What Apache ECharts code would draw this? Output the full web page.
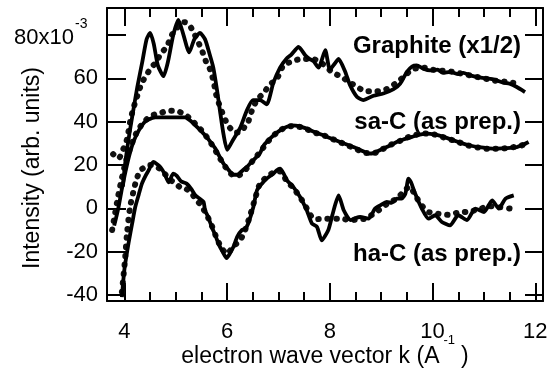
<!DOCTYPE html>
<html>
<head>
<meta charset="utf-8">
<script src="https://cdn.jsdelivr.net/npm/echarts@6/dist/echarts.min.js"></script>
<style>
  html, body { margin: 0; padding: 0; background: #fff; }
  #chart { width: 551px; height: 377px; }
</style>
</head>
<body>
<div id="chart"></div>
<script>
// axis ticks
const xMajor = [4, 6, 8, 10, 12];
const xMinor = [4.5, 5, 5.5, 6.5, 7, 7.5, 8.5, 9, 9.5, 10.5, 11, 11.5];
const yMajor = [-40, -20, 0, 20, 40, 60, 80];

// Graphite (x1/2): solid line and dots
const graphiteLine = [
  [3.97, 10], [4.01, 20], [4.1, 35], [4.17, 45], [4.25, 56], [4.35, 68], [4.43, 78], [4.5, 81],
  [4.57, 76], [4.65, 66], [4.76, 61], [4.85, 68], [4.95, 80], [5.05, 87], [5.15, 80], [5.26, 72],
  [5.36, 78], [5.47, 81], [5.57, 78], [5.66, 71], [5.73, 65], [5.8, 55], [5.86, 45], [5.93, 34],
  [6.0, 27], [6.1, 31], [6.25, 37], [6.38, 45], [6.5, 50], [6.64, 50], [6.77, 48], [6.9, 58],
  [7.03, 65], [7.15, 69], [7.25, 71], [7.39, 74.5], [7.52, 70.7], [7.6, 69], [7.68, 68], [7.78, 65],
  [7.91, 73], [8.0, 64], [8.1, 67], [8.17, 69], [8.3, 63], [8.39, 57], [8.53, 51.4], [8.65, 50],
  [8.85, 52], [9.04, 53], [9.24, 55], [9.37, 57.6], [9.5, 63], [9.6, 65.5], [9.69, 66], [9.82, 64.5],
  [9.95, 63.7], [10.1, 64], [10.2, 62.5], [10.34, 63], [10.5, 62], [10.6, 62.5], [10.73, 61.4],
  [10.9, 60.5], [11.06, 60], [11.2, 59.5], [11.38, 58], [11.5, 57.5], [11.64, 56], [11.8, 53.7]
];
const graphiteDots = [
  [3.78, 25], [3.88, 23], [3.97, 27], [4.05, 32], [4.11, 40], [4.16, 45], [4.21, 49], [4.28, 54],
  [4.34, 58], [4.44, 62], [4.52, 65], [4.6, 67], [4.7, 71], [4.83, 75], [4.92, 80], [5.05, 84],
  [5.15, 86], [5.25, 85], [5.35, 81], [5.47, 75], [5.54, 71], [5.6, 67], [5.67, 64], [5.74, 58],
  [5.78, 53], [5.83, 49], [5.9, 44.5], [6.0, 39], [6.06, 37], [6.15, 35], [6.25, 35], [6.35, 38],
  [6.41, 40], [6.48, 45], [6.58, 50], [6.7, 53], [6.83, 57], [6.97, 60], [7.1, 66], [7.29, 68],
  [7.45, 69], [7.65, 69], [7.84, 67], [8.04, 63], [8.23, 60.6], [8.4, 58], [8.53, 56], [8.72, 54],
  [8.91, 54], [9.1, 55], [9.3, 58], [9.45, 61], [9.6, 64], [9.8, 65], [10.0, 64], [10.2, 63.5],
  [10.4, 63], [10.6, 62], [10.8, 61], [11.0, 60], [11.2, 59], [11.4, 58.5], [11.55, 58], [11.7, 57.5]
];

// sa-C (as prep.)
const saLine = [
  [3.8, -8], [3.88, 0], [3.95, 9], [4.02, 17], [4.1, 25], [4.18, 31], [4.28, 36], [4.38, 39.5],
  [4.47, 41], [4.6, 42], [4.8, 42], [5.0, 42], [5.18, 42], [5.28, 40.5], [5.38, 38.3], [5.48, 36],
  [5.57, 33.7], [5.67, 30.8], [5.77, 27.6], [5.85, 24], [5.93, 20.6], [6.0, 18.5], [6.06, 16.8],
  [6.12, 15.5], [6.2, 15.5], [6.3, 17.5], [6.38, 19], [6.5, 22], [6.64, 25.5], [6.71, 29],
  [6.85, 32.5], [6.97, 35], [7.1, 37], [7.26, 38.3], [7.4, 38], [7.55, 36.8], [7.7, 35.2],
  [7.87, 33.7], [8.05, 32], [8.2, 30.6], [8.38, 29], [8.53, 27.6], [8.65, 26.3], [8.75, 25.3],
  [8.85, 25.5], [9.04, 27.6], [9.17, 29], [9.3, 30.6], [9.43, 31.8], [9.6, 33], [9.75, 34],
  [9.89, 34.5], [10.05, 34], [10.21, 33], [10.4, 31.5], [10.55, 30.2], [10.73, 29], [10.9, 28.2],
  [11.1, 27.7], [11.25, 27.6], [11.45, 27.8], [11.64, 28.3], [11.76, 29.3], [11.87, 30.6]
];
const saDots = [
  [3.76, -10], [3.82, -2], [3.88, 6], [3.95, 14], [4.02, 21], [4.1, 27], [4.18, 32], [4.26, 36],
  [4.35, 39], [4.45, 41.5], [4.55, 43], [4.7, 44], [4.85, 45], [5.0, 45], [5.12, 44], [5.25, 42],
  [5.38, 39], [5.5, 36], [5.6, 33], [5.7, 29.5], [5.8, 25.5], [5.9, 21.5], [6.0, 18], [6.1, 15.5],
  [6.2, 15], [6.3, 16.5], [6.4, 19], [6.5, 22], [6.64, 26], [6.8, 31], [6.97, 35], [7.15, 37.5],
  [7.3, 38], [7.5, 37], [7.7, 35], [7.9, 33.5], [8.1, 31.5], [8.3, 29.5], [8.5, 27.5], [8.7, 25.5],
  [8.85, 25.5], [9.0, 27], [9.2, 29.5], [9.4, 31.5], [9.6, 33.5], [9.85, 34.5], [10.05, 34],
  [10.25, 32.5], [10.45, 31], [10.7, 29], [10.9, 28], [11.1, 27.5], [11.3, 27.5], [11.5, 28],
  [11.7, 28.8], [11.85, 30]
];

// ha-C (as prep.)
const haLine = [
  [3.95, -41], [4.0, -28], [4.08, -16], [4.15, -7], [4.21, 0.6], [4.28, 6.5], [4.34, 11.4],
  [4.41, 15], [4.47, 17.5], [4.56, 21.4], [4.63, 20.5], [4.7, 19], [4.78, 16], [4.86, 12],
  [4.95, 16], [5.02, 15], [5.1, 12.5], [5.21, 11.4], [5.3, 9], [5.38, 6], [5.46, 4.5], [5.54, 3],
  [5.57, -1], [5.63, -4], [5.7, -8.6], [5.77, -12.5], [5.83, -16.3], [5.91, -20], [5.99, -23],
  [6.05, -21], [6.12, -17.9], [6.2, -13], [6.29, -10], [6.35, -9.5], [6.41, -7], [6.51, 0.6],
  [6.58, 8.3], [6.68, 11.5], [6.77, 13.7], [6.9, 16], [6.96, 17.5], [7.03, 18.3], [7.1, 16],
  [7.16, 13], [7.29, 9.8], [7.42, 5.2], [7.55, -0.9], [7.65, -7], [7.75, -8.6], [7.84, -14.8],
  [7.97, -10], [8.05, -3], [8.1, 1.4], [8.17, 6], [8.27, -0.9], [8.4, -5.5], [8.5, -4.5],
  [8.59, -4], [8.75, -4.8], [8.88, -0.1], [8.98, 1.4], [9.11, 3], [9.2, 2.5], [9.3, 4.5],
  [9.4, 4.5], [9.47, 6.8], [9.53, 13.7], [9.58, 12], [9.66, 6.8], [9.79, -0.1], [9.92, -4.8],
  [10.05, -3.2], [10.18, -6.3], [10.34, -7.9], [10.5, -3.2], [10.67, -5.5], [10.83, -0.1],
  [11.0, -1.7], [11.16, 3.7], [11.29, -0.1], [11.42, 4.5], [11.58, 6]
];
const haDots = [
  [3.95, -38.6], [4.01, -24], [4.05, -11.6], [4.11, 0.6], [4.18, 8.3], [4.24, 13.7], [4.31, 17.5],
  [4.4, 19], [4.5, 20], [4.6, 19.5], [4.7, 18], [4.8, 15.5], [4.9, 13], [5.0, 11.5], [5.08, 9.8],
  [5.2, 9], [5.3, 7], [5.4, 4], [5.5, 1], [5.6, -3], [5.7, -8], [5.8, -14], [5.9, -18.6],
  [6.0, -21], [6.1, -18], [6.25, -14.8], [6.35, -10], [6.45, -3], [6.55, 5], [6.64, 11.4],
  [6.75, 14], [6.9, 16.5], [7.03, 17], [7.15, 13], [7.3, 9], [7.45, 4], [7.55, 0], [7.65, -4],
  [7.76, -5], [7.87, -4.8], [8.0, -4.8], [8.2, -4.8], [8.42, -5.5], [8.55, -5], [8.69, -4.8],
  [8.82, -3], [8.95, -0.9], [9.11, 2], [9.3, 4.5], [9.45, 8], [9.55, 10], [9.66, 6], [9.8, 1],
  [9.92, -1.7], [10.1, -2.5], [10.3, -3], [10.5, -2], [10.7, -1.5], [10.9, -0.5], [11.1, 1],
  [11.3, 0.5], [11.5, -0.1]
];

const FONT = '"Liberation Sans", Arial, Helvetica, sans-serif';
const X_MIN = 3.66, X_MAX = 12.15;
const Y_MIN = -42.8, Y_MAX = 92.5;

const chart = echarts.init(document.getElementById('chart'), null, { renderer: 'canvas' });

function xAxisDef(position, ticks, len, withLine, withLabel) {
  return {
    type: 'value',
    position: position,
    min: X_MIN,
    max: X_MAX,
    axisLine: { show: withLine, onZero: false, lineStyle: { color: '#000', width: 2 } },
    axisTick: { show: true, inside: true, length: len, customValues: ticks, lineStyle: { color: '#000', width: 2 } },
    axisLabel: withLabel
      ? { show: true, customValues: ticks, margin: 20, color: '#000', fontFamily: FONT, fontSize: 22 }
      : { show: false },
    splitLine: { show: false }
  };
}

const lineSeries = (data) => ({
  type: 'line',
  data: data,
  showSymbol: false,
  smooth: 0.2,
  lineStyle: { color: '#000', width: 3.8, join: 'round' },
  z: 3
});
const dotSeries = (data) => ({
  type: 'line',
  data: data,
  showSymbol: false,
  smooth: 0.3,
  lineStyle: { color: '#111', width: 6, type: [0.5, 8.5], cap: 'round' },
  z: 2
});

chart.setOption({
  animation: false,
  backgroundColor: '#fff',
  grid: { left: 107, right: 8, top: 8, bottom: 76, containLabel: false, outerBoundsMode: 'none' },
  xAxis: [
    Object.assign(xAxisDef('bottom', xMajor, 18, true, true), {
      name: '{t|electron wave vector k (A}{s|-1}{t|)}',
      nameLocation: 'middle',
      nameGap: 33,
      nameMoveOverlap: false,
      nameTextStyle: {
        rich: {
          t: { fontFamily: FONT, fontSize: 23, color: '#000', lineHeight: 34, verticalAlign: 'bottom' },
          s: { fontFamily: FONT, fontSize: 13, color: '#000', lineHeight: 14, verticalAlign: 'top', padding: [0, 6, 0, 4] }
        }
      }
    }),
    xAxisDef('bottom', xMinor, 9, false, false),
    xAxisDef('top', xMajor, 18, true, false),
    xAxisDef('top', xMinor, 9, false, false)
  ],
  yAxis: [
    {
      type: 'value',
      position: 'left',
      min: Y_MIN,
      max: Y_MAX,
      name: 'Intensity (arb. units)',
      nameLocation: 'middle',
      nameGap: 63,
      nameMoveOverlap: false,
      nameTextStyle: { fontFamily: FONT, fontSize: 23, color: '#000', padding: [0, 27, 0, 0] },
      axisLine: { show: true, onZero: false, lineStyle: { color: '#000', width: 2 } },
      axisTick: { show: true, inside: true, length: 19, customValues: yMajor, lineStyle: { color: '#000', width: 2 } },
      axisLabel: {
        customValues: yMajor,
        margin: 9,
        color: '#000',
        fontFamily: FONT,
        fontSize: 22,
        formatter: (v) => (v === 80 ? '{b|80x10}' : String(v)),
        rich: {
          b: { fontFamily: FONT, fontSize: 22, color: '#000', padding: [6, 24, 0, 0] }
        }
      },
      splitLine: { show: false }
    },
    {
      type: 'value',
      position: 'right',
      min: Y_MIN,
      max: Y_MAX,
      axisLine: { show: true, onZero: false, lineStyle: { color: '#000', width: 2 } },
      axisTick: { show: true, inside: true, length: 18, customValues: yMajor, lineStyle: { color: '#000', width: 2 } },
      axisLabel: { show: false },
      splitLine: { show: false }
    }
  ],
  graphic: [
    {
      type: 'text', x: 75, y: 24,
      style: { text: '-3', font: '14px ' + FONT, fill: '#000', align: 'left', verticalAlign: 'middle' }
    },
    {
      type: 'text', x: 521, y: 46,
      style: { text: 'Graphite (x1/2)', font: 'bold 24px ' + FONT, fill: '#000', align: 'right', verticalAlign: 'middle' }
    },
    {
      type: 'text', x: 521, y: 122,
      style: { text: 'sa-C (as prep.)', font: 'bold 24px ' + FONT, fill: '#000', align: 'right', verticalAlign: 'middle' }
    },
    {
      type: 'text', x: 521, y: 254,
      style: { text: 'ha-C (as prep.)', font: 'bold 24px ' + FONT, fill: '#000', align: 'right', verticalAlign: 'middle' }
    }
  ],
  series: [
    dotSeries(graphiteDots),
    lineSeries(graphiteLine),
    dotSeries(saDots),
    lineSeries(saLine),
    dotSeries(haDots),
    lineSeries(haLine)
  ]
});
</script>
</body>
</html>
